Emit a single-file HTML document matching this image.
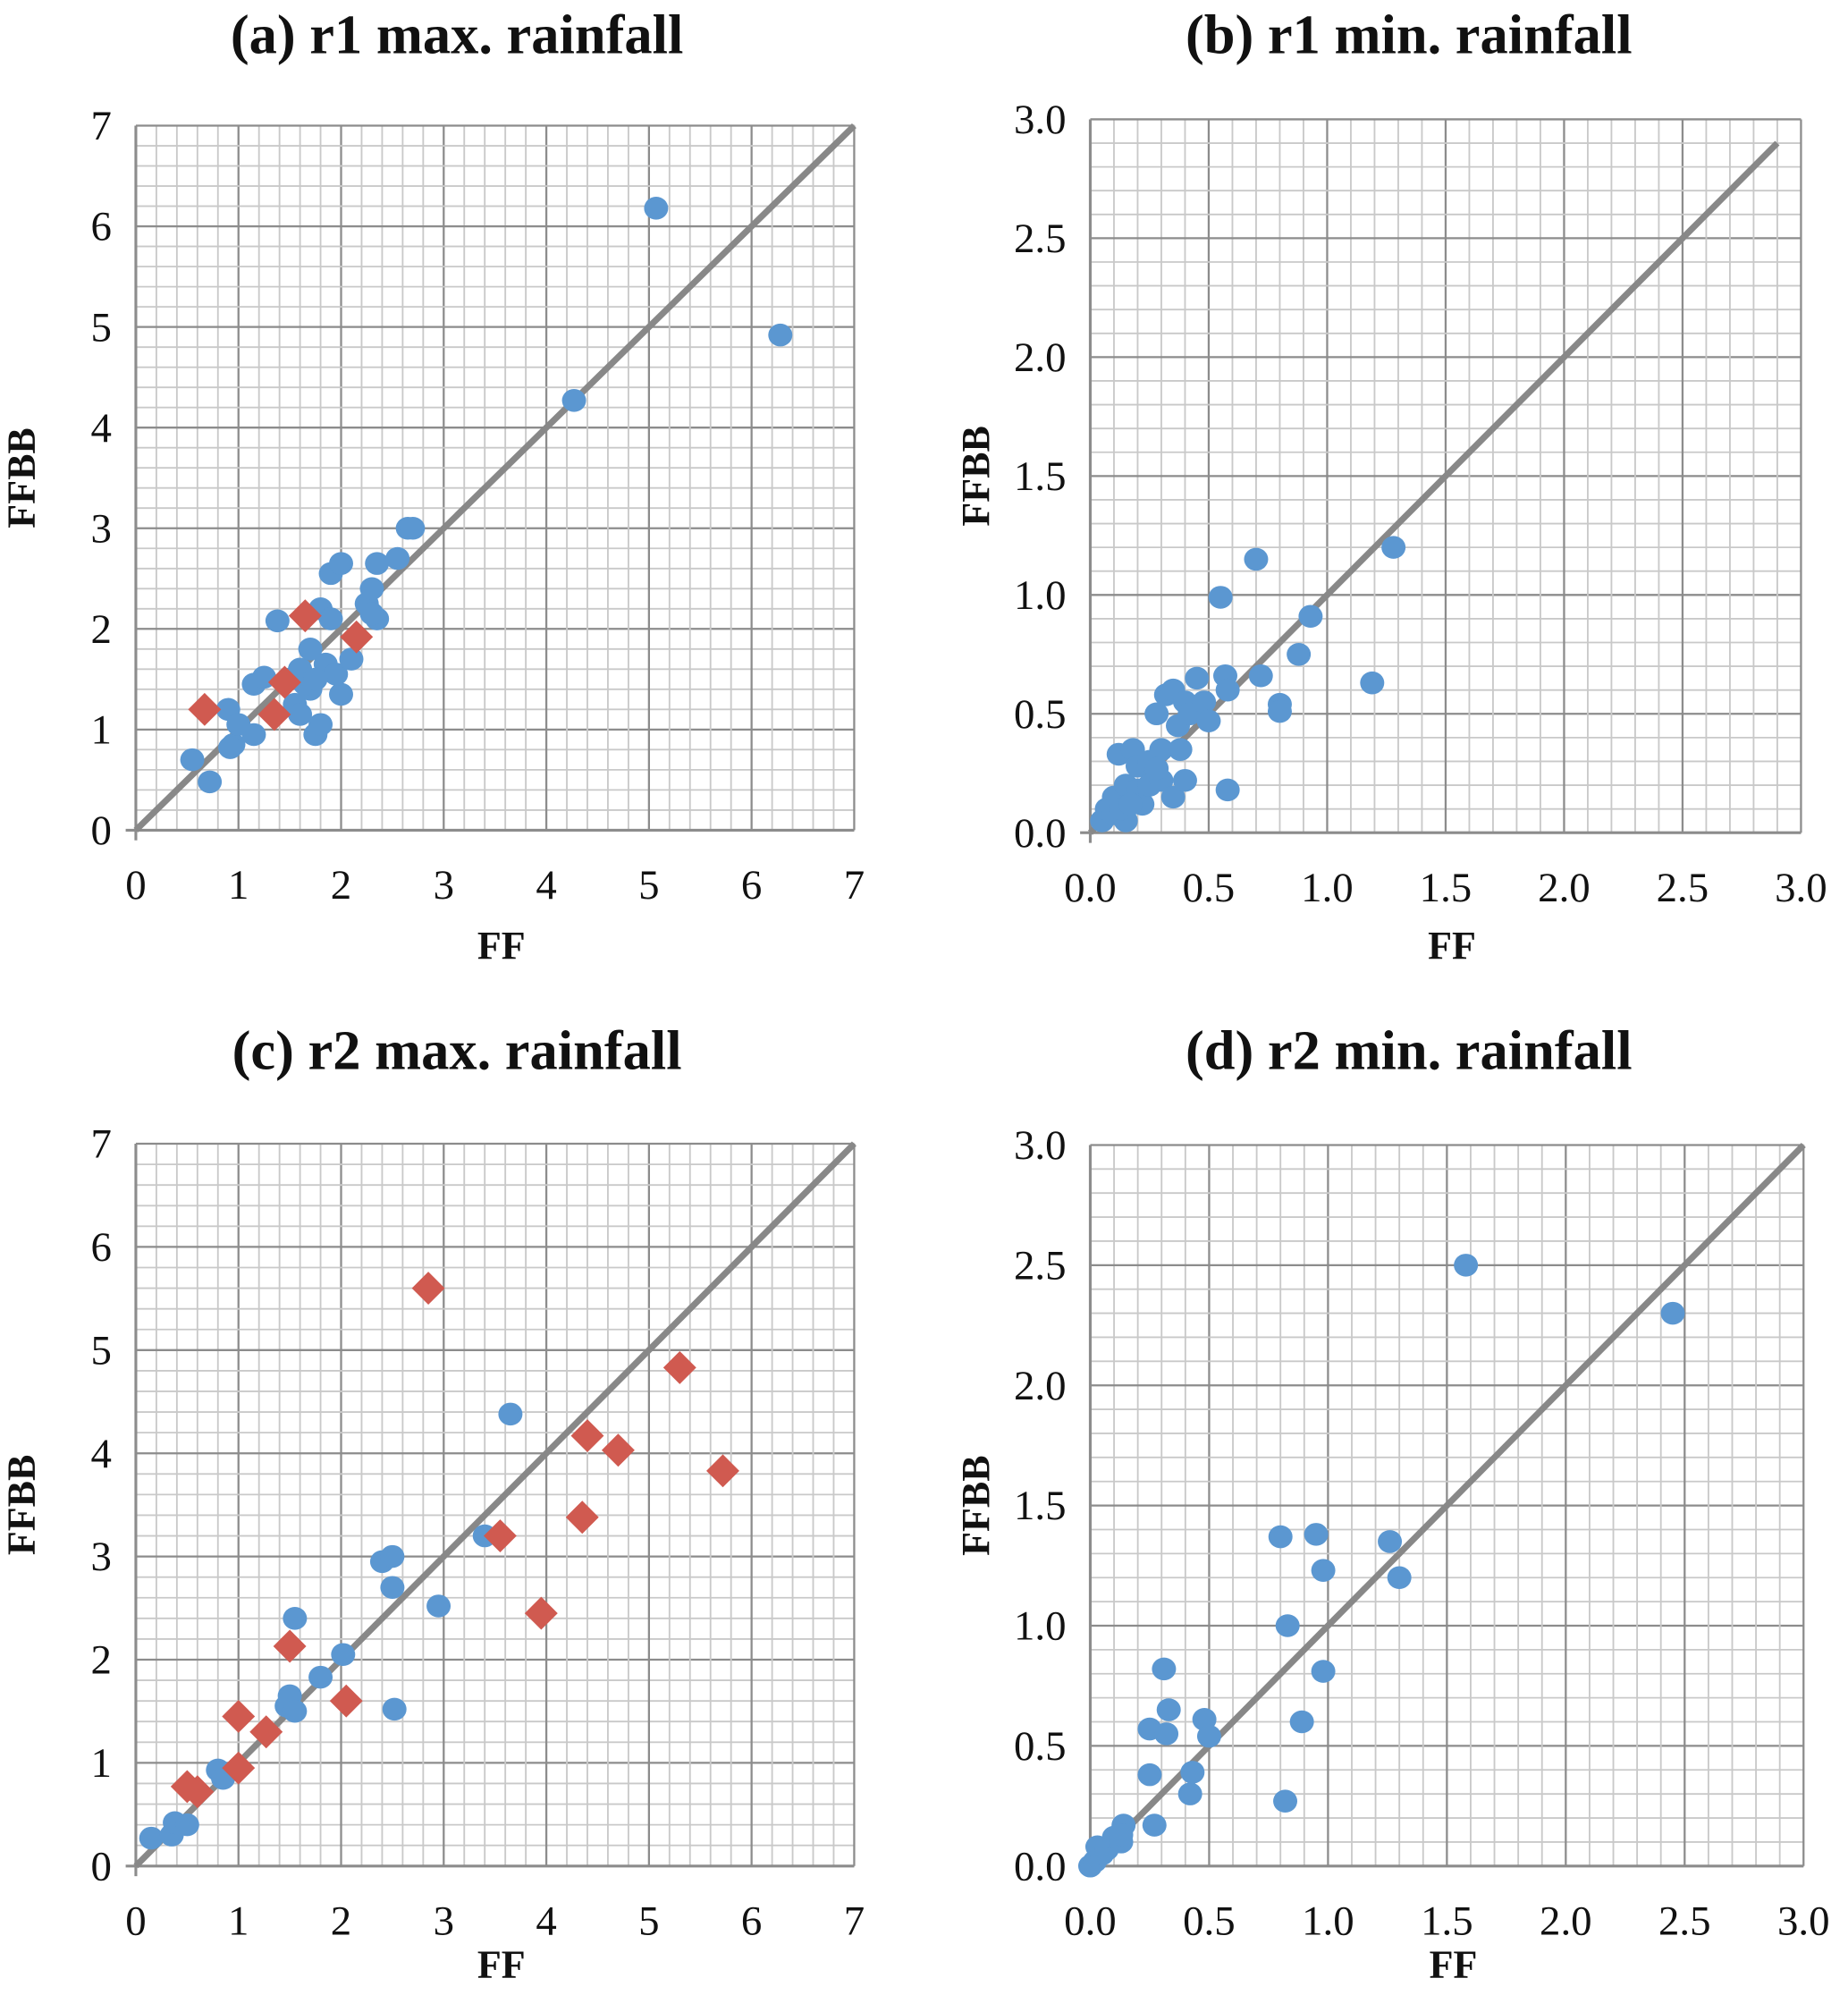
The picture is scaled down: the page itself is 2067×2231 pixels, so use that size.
<!DOCTYPE html>
<html><head><meta charset="utf-8">
<style>
html,body{margin:0;padding:0;background:#fff;}
svg{display:block;}
.t{font-family:"Liberation Serif",serif;}
</style></head>
<body>
<svg id="chart" width="2067" height="2231" viewBox="0 0 1456 1571.6" xmlns="http://www.w3.org/2000/svg"></svg>
<script>
// Panel (a) r1 max
const aBlueX = [0.55,0.72,0.9,0.95,0.92,1.0,1.15,1.15,1.25,1.38,1.5,1.55,1.6,1.6,1.7,1.7,1.75,1.8,1.8,1.85,1.9,1.9,2.0,1.95,2.0,2.1,2.25,2.3,2.35,2.35,2.3,2.55,2.65,2.7,4.27,5.07,6.28,1.65,1.75];
const aBlueY = [0.7,0.48,1.2,0.85,0.82,1.05,0.95,1.45,1.52,2.08,1.5,1.25,1.15,1.6,1.4,1.8,0.95,1.05,2.2,1.65,2.1,2.55,1.35,1.55,2.65,1.7,2.25,2.4,2.65,2.1,2.15,2.7,3.0,3.0,4.27,6.18,4.92,1.45,1.5];
const aRedX = [0.67,1.35,1.45,1.65,2.15];
const aRedY = [1.2,1.15,1.47,2.13,1.92];
// Panel (b) r1 min
const bBlueX = [0.05,0.07,0.1,0.1,0.12,0.15,0.15,0.18,0.2,0.2,0.22,0.25,0.25,0.28,0.3,0.3,0.32,0.35,0.35,0.37,0.38,0.4,0.4,0.42,0.45,0.48,0.5,0.55,0.57,0.58,0.58,0.7,0.72,0.8,0.8,0.88,0.93,1.19,1.28,0.13,0.17,0.28];
const bBlueY = [0.05,0.1,0.08,0.15,0.33,0.05,0.2,0.35,0.28,0.18,0.12,0.3,0.2,0.5,0.22,0.35,0.58,0.15,0.6,0.45,0.35,0.55,0.22,0.5,0.65,0.55,0.47,0.99,0.66,0.6,0.18,1.15,0.66,0.54,0.51,0.75,0.91,0.63,1.2,0.1,0.12,0.27];
// Panel (c) r2 max
const cBlueX = [0.15,0.35,0.38,0.5,0.8,0.85,1.47,1.5,1.55,1.55,1.8,2.02,2.4,2.5,2.5,2.52,2.95,3.4,3.65];
const cBlueY = [0.27,0.3,0.42,0.4,0.93,0.85,1.55,1.65,1.5,2.4,1.83,2.05,2.95,3.0,2.7,1.52,2.52,3.2,4.38];
const cRedX = [0.5,0.6,1.0,1.0,1.27,1.5,2.05,2.85,3.55,3.95,4.35,4.4,4.7,5.3,5.72];
const cRedY = [0.77,0.72,1.45,0.95,1.3,2.13,1.6,5.6,3.2,2.45,3.38,4.17,4.03,4.83,3.83];
// Panel (d) r2 min
const dBlueX = [0.0,0.02,0.03,0.05,0.07,0.1,0.13,0.14,0.13,0.25,0.25,0.27,0.31,0.32,0.33,0.42,0.43,0.48,0.5,0.8,0.83,0.82,0.89,0.95,0.98,0.98,1.26,1.3,1.58,2.45];
const dBlueY = [0.0,0.02,0.08,0.05,0.07,0.12,0.1,0.17,0.13,0.38,0.57,0.17,0.82,0.55,0.65,0.3,0.39,0.61,0.54,1.37,1.0,0.27,0.6,1.38,1.23,0.81,1.35,1.2,2.5,2.3];
const intTicks = ["0","1","2","3","4","5","6","7"];
const decTicks = ["0.0","0.5","1.0","1.5","2.0","2.5","3.0"];

const NS="http://www.w3.org/2000/svg";
const svg=document.getElementById('chart');
function mk(tag,attrs,parent){const e=document.createElementNS(NS,tag);for(const k in attrs)e.setAttribute(k,attrs[k]);(parent||svg).appendChild(e);return e;}

function panel(p){
  const g=mk('g',{});
  
  
  const sx=v=>p.x0+(v/p.max)*(p.x1-p.x0);
  const sy=v=>p.y0-(v/p.max)*(p.y0-p.y1);
  const nMinor=(p.ticks.length-1)*5;
  for(let i=0;i<=nMinor;i++){
    const v=p.max*i/nMinor; const major=i%5===0;
    const col=major?'#8c8c8c':'#c9c9c9', w=major?1.6:1.3;
    const vl=mk('line',{x1:sx(v),x2:sx(v),y1:p.y1,y2:p.y0,stroke:col,'stroke-width':w},g);
    
    
    const hl=mk('line',{x1:p.x0,x2:p.x1,y1:sy(v),y2:sy(v),stroke:col,'stroke-width':w},g);
    
    
  }
  const ax=mk('line',{x1:p.x0-8,x2:p.x1,y1:p.y0,y2:p.y0,stroke:'#8c8c8c','stroke-width':2.2},g);
  
  
  const ay=mk('line',{x1:p.x0,x2:p.x0,y1:p.y1,y2:p.y0+8,stroke:'#8c8c8c','stroke-width':2.2},g);
  
  
  p.ticks.forEach((t,i)=>{
    const v=p.max*i/(p.ticks.length-1);
    const xt=mk('text',{x:sx(v),y:p.y0+54,'text-anchor':'middle','font-size':33,class:'t',fill:'#111'},g);
    xt.textContent=t;
    
    
    const yt=mk('text',{x:p.x0-19,y:sy(v)+11,'text-anchor':'end','font-size':33,class:'t',fill:'#111'},g);
    yt.textContent=t;
    
    
  });
  const dl=mk('line',{x1:sx(0),y1:sy(0),x2:sx(p.lineEnd),y2:sy(p.lineEnd),stroke:'#888','stroke-width':5},g);
  
  
  p.blueX.forEach((x,i)=>{
    const c=mk('ellipse',{cx:sx(x),cy:sy(p.blueY[i]),rx:9.5,ry:9,fill:'#5b97d1'},g);
    
    
  });
  (p.redX||[]).forEach((x,i)=>{
    const cx=sx(x),cy=sy(p.redY[i]),r=13;
    const d=mk('polygon',{points:`${cx},${cy-r} ${cx+r},${cy} ${cx},${cy+r} ${cx-r},${cy}`,fill:'#d05a50'},g);
    
    
  });
  const tt=mk('text',{x:p.tx,y:p.ty,'text-anchor':'middle','font-size':44,'font-weight':'bold',class:'t',fill:'#111'},g);
  tt.textContent=p.title;
  
  
  const xl=mk('text',{x:(p.x0+p.x1)/2+5,y:p.xly,'text-anchor':'middle','font-size':31,'font-weight':'bold',class:'t',fill:'#111'},g);
  xl.textContent='FF';
  
  
  const yx=p.x0-80, yy=(p.y0+p.y1)/2;
  const yl=mk('text',{x:yx,y:yy,'text-anchor':'middle','font-size':31,'font-weight':'bold',class:'t',fill:'#111',transform:`rotate(-90 ${yx} ${yy})`},g);
  yl.textContent='FFBB';
  
  
}
panel({id:'a',x0:107,x1:673,y0:654,y1:99,max:7,ticks:intTicks,lineEnd:7,blueX:aBlueX,blueY:aBlueY,redX:aRedX,redY:aRedY,title:'(a)  r1 max. rainfall',tx:360,ty:42,xly:755});
panel({id:'b',x0:859,x1:1419,y0:656,y1:94,max:3,ticks:decTicks,lineEnd:2.9,blueX:bBlueX,blueY:bBlueY,title:'(b)  r1 min. rainfall',tx:1110,ty:42,xly:755});
panel({id:'c',x0:107,x1:673,y0:1470,y1:901,max:7,ticks:intTicks,lineEnd:7,blueX:cBlueX,blueY:cBlueY,redX:cRedX,redY:cRedY,title:'(c)  r2 max. rainfall',tx:360,ty:842,xly:1558});
panel({id:'d',x0:859,x1:1421,y0:1470,y1:902,max:3,ticks:decTicks,lineEnd:3,blueX:dBlueX,blueY:dBlueY,title:'(d)  r2 min. rainfall',tx:1110,ty:842,xly:1558});
</script>
</body></html>
